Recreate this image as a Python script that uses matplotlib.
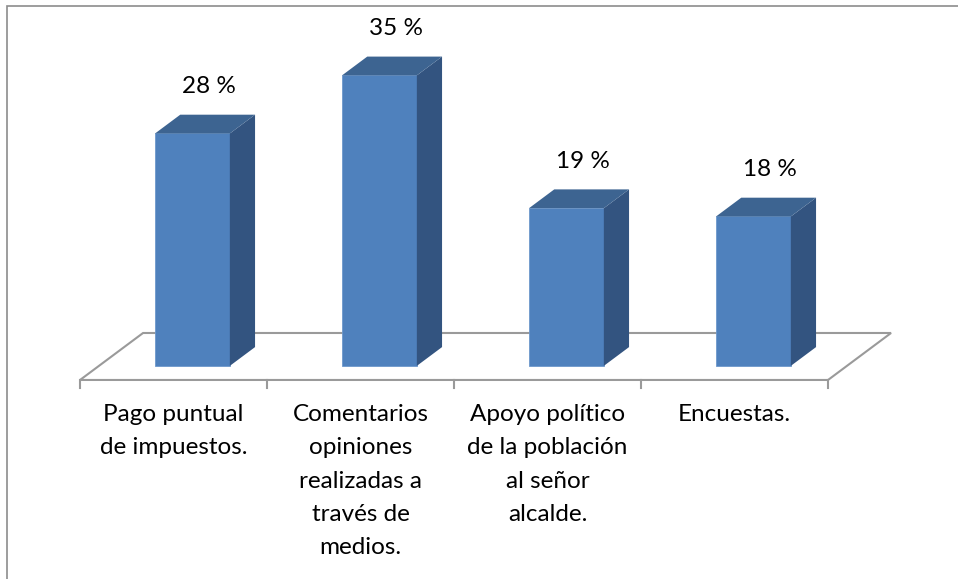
import matplotlib
matplotlib.use("Agg")
import matplotlib.pyplot as plt
from matplotlib.patches import Polygon, Rectangle

categories = ["Pago puntual\nde impuestos.",
              "Comentarios\nopiniones\nrealizadas a\ntravés de\nmedios.",
              "Apoyo político\nde la población\nal señor\nalcalde.",
              "Encuestas."]
values = [28, 35, 19, 18]
labels = ["28 %", "35 %", "19 %", "18 %"]

front_color = "#4f81bd"
side_color = "#335480"
top_color = "#3d6491"
floor_edge = "#9a9a9a"

plt.rcParams['font.family'] = ['Lato', 'DejaVu Sans']

fig = plt.figure(figsize=(9.58, 5.79), dpi=100)
ax = fig.add_axes([0, 0, 1, 1])
ax.set_xlim(-0.928, 4.195)
ax.set_ylim(-23.98, 45.78)
ax.axis("off")

# depth vector of the floor (oblique projection)
Dx, Dy = 0.337, 5.66
d0, d1 = 0.3, 0.7
w = 0.40
n = len(values)

# floor
floor = Polygon([(-0.5, 0), (n - 0.5, 0), (n - 0.5 + Dx, Dy), (-0.5 + Dx, Dy)],
                closed=True, facecolor="white", edgecolor=floor_edge, lw=1.5, zorder=1)
ax.add_patch(floor)
for i in range(n + 1):
    ax.plot([i - 0.5, i - 0.5], [0, -1.0], color=floor_edge, lw=1.5, zorder=1)

for i, v in enumerate(values):
    x0 = i - w / 2 + d0 * Dx
    y0 = d0 * Dy
    ddx, ddy = (d1 - d0) * Dx, (d1 - d0) * Dy
    ax.bar(i + d0 * Dx, v, width=w, bottom=y0, color=front_color,
           edgecolor="#6d98cc", linewidth=0.6, zorder=3)
    side = Polygon([(x0 + w, y0), (x0 + w + ddx, y0 + ddy),
                    (x0 + w + ddx, y0 + v + ddy), (x0 + w, y0 + v)],
                   closed=True, facecolor=side_color, edgecolor="none", zorder=3)
    top = Polygon([(x0, y0 + v), (x0 + w, y0 + v),
                   (x0 + w + ddx, y0 + v + ddy), (x0 + ddx, y0 + v + ddy)],
                  closed=True, facecolor=top_color, edgecolor="none", zorder=3)
    ax.add_patch(side)
    ax.add_patch(top)
    ax.text(i + (d0 + d1) / 2 * Dx + 0.02, y0 + v + ddy + 2.6, labels[i],
            ha="center", va="baseline", fontsize=17.5, color="black", zorder=4)

for i, c in enumerate(categories):
    ax.text(i, -2.9, c, ha="center", va="top", fontsize=17.5,
            linespacing=1.72, color="black")

# chart border
fig.patches.append(Rectangle((7 / 958, -0.1), 1.2, 1 - 6 / 579 + 0.1,
                             transform=fig.transFigure, fill=False,
                             edgecolor="#8c8c8c", lw=1.2))

fig.savefig("out.png", dpi=100)
